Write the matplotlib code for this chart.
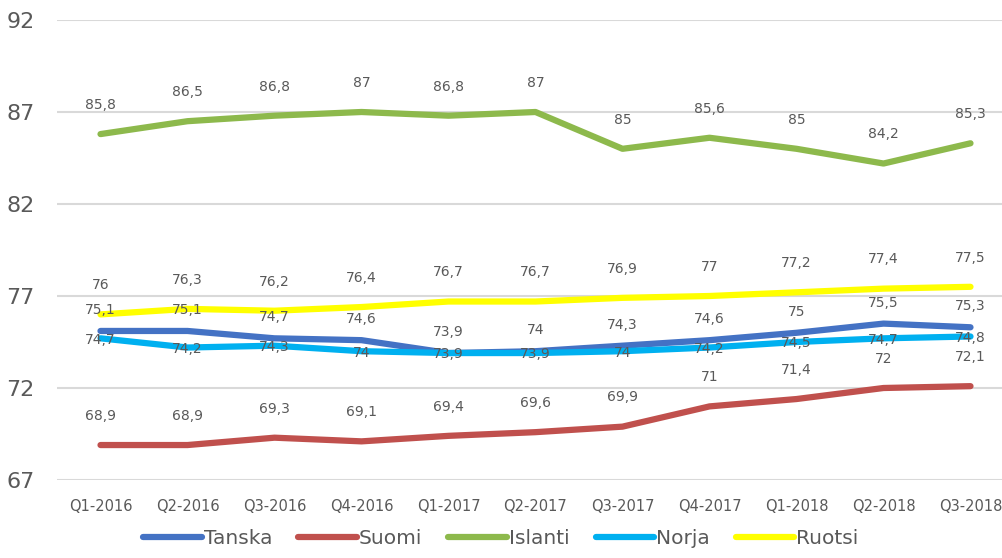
import matplotlib.pyplot as plt

quarters = ['Q1-2016', 'Q2-2016', 'Q3-2016', 'Q4-2016', 'Q1-2017', 'Q2-2017',
            'Q3-2017', 'Q4-2017', 'Q1-2018', 'Q2-2018', 'Q3-2018']
tanska = [75.1, 75.1, 74.7, 74.6, 73.9, 74, 74.3, 74.6, 75, 75.5, 75.3]
suomi = [68.9, 68.9, 69.3, 69.1, 69.4, 69.6, 69.9, 71, 71.4, 72, 72.1]
islanti = [85.8, 86.5, 86.8, 87, 86.8, 87, 85, 85.6, 85, 84.2, 85.3]
norja = [74.7, 74.2, 74.3, 74, 73.9, 73.9, 74, 74.2, 74.5, 74.7, 74.8]
ruotsi = [76, 76.3, 76.2, 76.4, 76.7, 76.7, 76.9, 77, 77.2, 77.4, 77.5]

series = [
    ('Tanska', tanska, '#4472C4', 15),
    ('Suomi', suomi, '#C0504D', 21),
    ('Islanti', islanti, '#8DB94C', 21),
    ('Norja', norja, '#00B0F0', -1),
    ('Ruotsi', ruotsi, '#FFFF00', 21),
]

txt = '#595959'
fig = plt.figure(figsize=(10.02, 5.58), dpi=100)
ax = fig.add_axes([57 / 1002, 78 / 558, 957 / 1002, 460 / 558])

x = list(range(len(quarters)))
for name, vals, col, off in series:
    ax.plot(x, vals, color=col, lw=4.5, solid_capstyle='round', label=name, zorder=3)
    for xi, v in zip(x, vals):
        ax.annotate(('%g' % v).replace('.', ','), (xi, v), xytext=(0, off),
                    textcoords='offset points', ha='center', va='center',
                    fontsize=10, color=txt, zorder=4)

ax.set_xlim(-0.5, 10.5)
ax.set_ylim(67, 92)
ax.set_yticks([67, 72, 77, 82, 87, 92])
ax.set_xticks(x)
ax.set_xticklabels(quarters)
ax.tick_params(axis='y', labelsize=16, colors=txt, length=0, pad=16)
ax.tick_params(axis='x', labelsize=10.5, colors=txt, length=0, pad=14)
ax.grid(axis='y', color='#D9D9D9', lw=1.5, zorder=0)
for s in ax.spines.values():
    s.set_visible(False)

leg = fig.legend(loc='lower center', bbox_to_anchor=(0.5, -0.015), ncol=5,
                 frameon=False, fontsize=14.5, handlelength=2.9, handletextpad=0.1,
                 columnspacing=1.3)
for t in leg.get_texts():
    t.set_color(txt)

fig.savefig('out.png', dpi=100)
